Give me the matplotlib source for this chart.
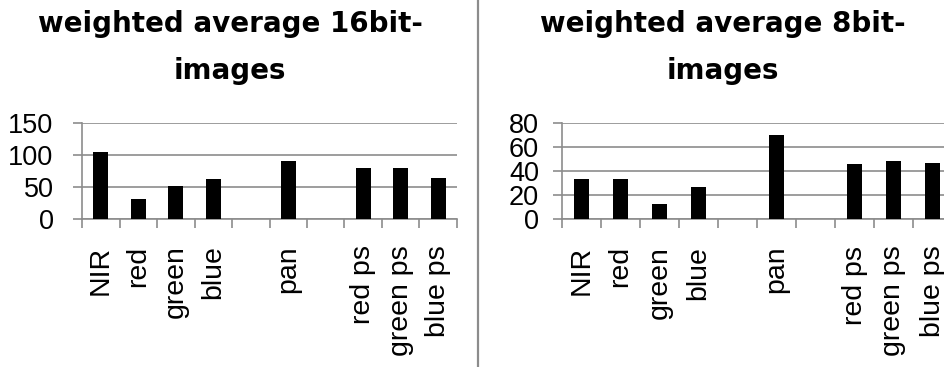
import matplotlib
matplotlib.use("Agg")
import matplotlib.pyplot as plt
import numpy as np

categories = ["NIR", "red", "green", "blue", "", "pan", "", "red ps", "green ps", "blue ps"]
values_16bit = [104, 31, 51, 62, None, 90, None, 79, 79, 64]
values_8bit = [33, 33, 12.7, 27, None, 70, None, 45.5, 48, 46.3]
yticks_16bit = [0, 50, 100, 150]
yticks_8bit = [0, 20, 40, 60, 80]
title_16bit = "weighted average 16bit-\nimages"
title_8bit = "weighted average 8bit-\nimages"

W, H = 945, 367
DPI = 100
GRAY = "#8c8c8c"
LABEL_FONT = ["Liberation Sans", "DejaVu Sans"]
TITLE_FONT = ["DejaVu Sans"]

fig = plt.figure(figsize=(W / DPI, H / DPI), dpi=DPI)


def px_box(x0, x1, ytop, ybot):
    return [x0 / W, 1 - ybot / H, (x1 - x0) / W, (ybot - ytop) / H]


def draw_panel(ax, vals, yticks, ypad):
    n = len(categories)
    xs = np.arange(n)
    heights = [v if v is not None else 0 for v in vals]
    mask = [v is not None for v in vals]
    ax.bar(xs[mask], np.array(heights)[mask], width=0.4, color="black", zorder=3)
    ax.set_xlim(-0.5, n - 0.5)
    ax.set_ylim(yticks[0], yticks[-1])
    ax.set_yticks(yticks)
    ax.set_xticks(xs)
    ax.set_xticklabels(categories, rotation=90, fontsize=20.5, family=LABEL_FONT)
    ax.set_xticks(np.arange(-0.5, n, 1.0), minor=True)
    ax.tick_params(axis="x", which="major", length=0, pad=19)
    ax.tick_params(axis="x", which="minor", length=6.5, width=1.2, color=GRAY)
    ax.tick_params(axis="y", length=6.5, width=1.2, color=GRAY, pad=ypad,
                   labelsize=19.5)
    for lab in ax.get_yticklabels():
        lab.set_family(LABEL_FONT)
    ax.grid(axis="y", color=GRAY, linewidth=1.2, zorder=0)
    for side in ("top", "right"):
        ax.spines[side].set_visible(False)
    for side in ("left", "bottom"):
        ax.spines[side].set_color(GRAY)
        ax.spines[side].set_linewidth(1.2)
    ax.set_axisbelow(True)


ax1 = fig.add_axes(px_box(82, 457, 123, 219))
draw_panel(ax1, values_16bit, yticks_16bit, ypad=14)

ax2 = fig.add_axes(px_box(562, 952, 122.7, 219.3))
draw_panel(ax2, values_8bit, yticks_8bit, ypad=10)

# two-line titles; anchor on the baseline of the second line
for xc, txt in ((230, title_16bit), (722.5, title_8bit)):
    fig.text(xc / W, 1 - 79 / H, txt, ha="center", va="baseline",
             fontsize=20, fontweight="bold", family=TITLE_FONT,
             linespacing=1.85, multialignment="center")

# divider between the two panels
fig.add_artist(plt.Line2D([478 / W, 478 / W], [0, 1], color=GRAY, linewidth=1.6,
                          transform=fig.transFigure))

fig.savefig("out.png", dpi=DPI)
